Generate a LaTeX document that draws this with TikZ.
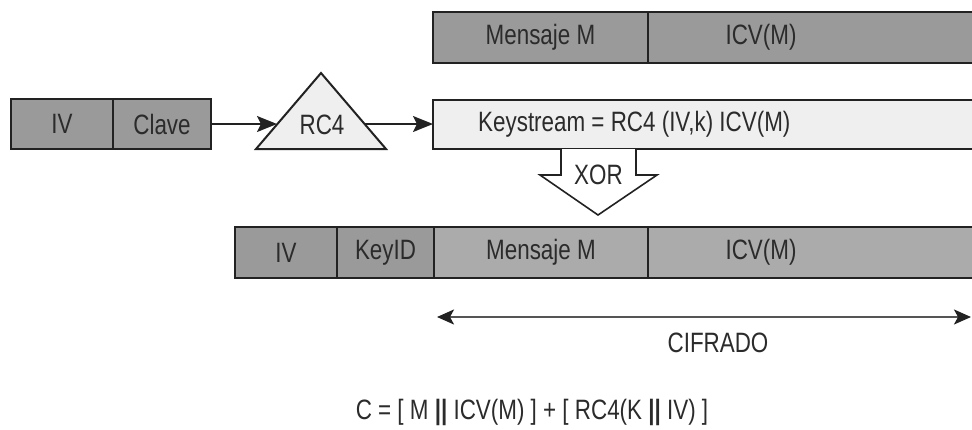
\documentclass[tikz,border=0pt]{standalone}
\usepackage{fontspec}
\setmainfont[FakeStretch=0.8]{Liberation Sans}
\usetikzlibrary{arrows.meta}
\definecolor{cellDark}{HTML}{9A9A9A}
\definecolor{cellLight}{HTML}{ABABAB}
\definecolor{paleFill}{HTML}{EFEFEF}
\definecolor{ink}{HTML}{222222}
\definecolor{txt}{HTML}{2B2B2B}
\definecolor{spanLine}{HTML}{555555}
\begin{document}
\begin{tikzpicture}[x=1pt,y=-1pt,
  every node/.style={font=\fontsize{28pt}{32pt}\selectfont, text=txt},
  cell/.style={draw=ink, line width=2pt, inner sep=0pt, outer sep=0pt, minimum height=50pt},
  dark/.style={cell, fill=cellDark},
  light/.style={cell, fill=cellLight},
  pale/.style={cell, fill=paleFill},
  flow/.style={draw=ink, line width=1.6pt, -{Stealth[length=20pt,width=16pt,inset=4pt]}},
  span/.style={draw=spanLine, line width=2pt, {Stealth[length=17pt,width=15pt,inset=4pt,color=ink]}-{Stealth[length=17pt,width=15pt,inset=4pt,color=ink]}},
  plain/.style={inner sep=0pt}
]
\useasboundingbox (0,0) rectangle (972,429);

% plaintext with its checksum
\node[dark, minimum width=215pt, minimum height=51pt] (msg1) at (540.5,37.5) {Mensaje M};
\node[dark, minimum width=342pt, minimum height=51pt,
      label={[plain, xshift=-58pt]center:ICV(M)}] (icv1) at (819,37.5) {};

% IV and key
\node[dark, minimum width=102pt] (iv1) at (62,124) {IV};
\node[dark, minimum width=98pt] (clave) at (162,124) {Clave};

% RC4 block
\draw[ink, line width=2pt, fill=paleFill, line join=miter] (321,73) -- (386,149) -- (256,149) -- cycle;
\node[plain] (rc4) at (322,124.5) {RC4};
\coordinate (rc4in) at (277,124);
\coordinate (rc4out) at (365,124);

% keystream
\node[pale, minimum width=557pt, minimum height=49pt] (keystream) at (711.5,124.5) {};
\node[plain, anchor=west] (kstext) at (478,124.5) {Keystream = RC4 (IV,k) ICV(M)};

\draw[flow] (clave.east) -- (rc4in);
\draw[flow] (rc4out) -- (rc4out -| keystream.west);

% XOR block arrow
\draw[ink, line width=1.6pt, fill=white, line join=miter]
  (561,149) -- (561,175) -- (540,175) -- (598,215) -- (657,175) -- (636,175) -- (636,149);
\node[plain] (xor) at (598.5,174.5) {XOR};

% transmitted frame
\node[dark, minimum width=102pt, minimum height=51pt] (iv2) at (286,252.5) {IV};
\node[dark, minimum width=97pt, minimum height=51pt] (keyid) at (385.5,252.5) {KeyID};
\node[light, minimum width=214pt, minimum height=51pt] (msg2) at (541,252.5) {Mensaje M};
\node[light, minimum width=342pt, minimum height=51pt,
      label={[plain, xshift=-58pt]center:ICV(M)}] (icv2) at (819,252.5) {};

% encrypted span
\coordinate (spanL) at (437,317);
\coordinate (spanR) at (971,317);
\draw[span] (spanL) -- (spanR);
\node[plain] (cifrado) at (718,342.5) {CIFRADO};

% formula
\node[plain] (formula) at (532,412)
  {C = [ M \textbf{||} ICV(M) ] + [ RC4(K \textbf{||} IV) ]};
\end{tikzpicture}
\end{document}
